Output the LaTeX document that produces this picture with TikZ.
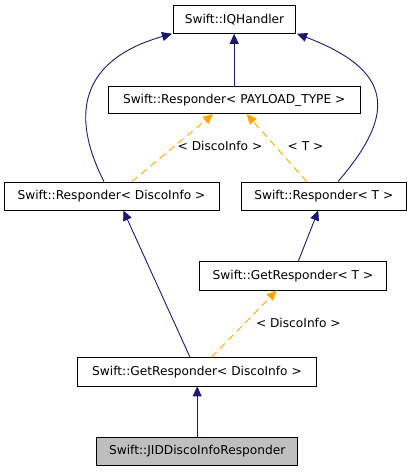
\documentclass[tikz,border=0pt]{standalone}
\usepackage{fontspec}
\setmainfont{DejaVu Sans}
\usetikzlibrary{arrows.meta}
\definecolor{navyedge}{HTML}{191970}
\definecolor{orangeedge}{HTML}{FFA500}
\definecolor{grayfill}{HTML}{BFBFBF}
\begin{document}
\begin{tikzpicture}[x=1pt,y=-1pt,
  box/.style={draw=black,line width=0.9pt,fill=white,rectangle,inner sep=0pt,
    font=\fontsize{12.2}{14}\selectfont},
  inh/.style={draw=navyedge,line width=0.9pt,-{Triangle[length=10pt,width=9pt]},color=navyedge},
  tmpl/.style={draw=orangeedge,line width=0.9pt,dash pattern=on 7pt off 5pt,
    -{Triangle[length=10pt,width=9pt]},color=orangeedge},
  lbl/.style={font=\fontsize{12.2}{14}\selectfont,inner sep=0pt}]
\useasboundingbox (0,0) rectangle (411,472);
\fill[white] (0,0) rectangle (411,472);

\node[box,minimum width=122.5pt,minimum height=27.6pt] (iq) at (234.5,19.5) {Swift::IQHandler};
\node[box,minimum width=251.7pt,minimum height=27pt] (pay) at (234.2,100.2) {Swift::Responder< PAYLOAD\_TYPE >};
\node[box,minimum width=215pt,minimum height=28pt] (rdi) at (111.5,196) {Swift::Responder< DiscoInfo >};
\node[box,minimum width=164.3pt,minimum height=28pt] (rt) at (323.8,196) {Swift::Responder< T >};
\node[box,minimum width=187.4pt,minimum height=28.3pt] (grt) at (293,275.8) {Swift::GetResponder< T >};
\node[box,minimum width=239.4pt,minimum height=28.3pt] (grdi) at (197,371.8) {Swift::GetResponder< DiscoInfo >};
\node[box,fill=grayfill,minimum width=201pt,minimum height=28.4pt] (jid) at (197.2,451.5) {Swift::JIDDiscoInfoResponder};

\draw[inh] (pay.north) -- (pay.north |- iq.south);
\draw[inh] ([xshift=-7.5pt]rdi.north) .. controls (70,115) and (80,60) .. ([xshift=-62.5pt]iq.south);
\draw[inh] ([xshift=14.2pt]rt.north) .. controls (398,112) and (392,70) .. ([xshift=62.5pt]iq.south);
\draw[tmpl] ([xshift=20.5pt]rdi.north) -- ([xshift=-21.2pt]pay.south);
\draw[tmpl] ([xshift=-17pt]rt.north) -- ([xshift=12.5pt]pay.south);
\draw[inh] ([xshift=5.3pt]grt.north) -- ([xshift=-5.5pt]rt.south);
\draw[inh] ([xshift=-7pt]grdi.north) -- ([xshift=11.8pt]rdi.south);
\draw[tmpl] ([xshift=14.7pt]grdi.north) -- ([xshift=-16.3pt]grt.south);
\draw[inh] (jid.north) -- (jid.north |- grdi.south);

\node[lbl] (l1) at (220,146) {< DiscoInfo >};
\node[lbl] (l2) at (305.5,146) {< T >};
\node[lbl] (l3) at (298.3,322.7) {< DiscoInfo >};
\end{tikzpicture}
\end{document}
